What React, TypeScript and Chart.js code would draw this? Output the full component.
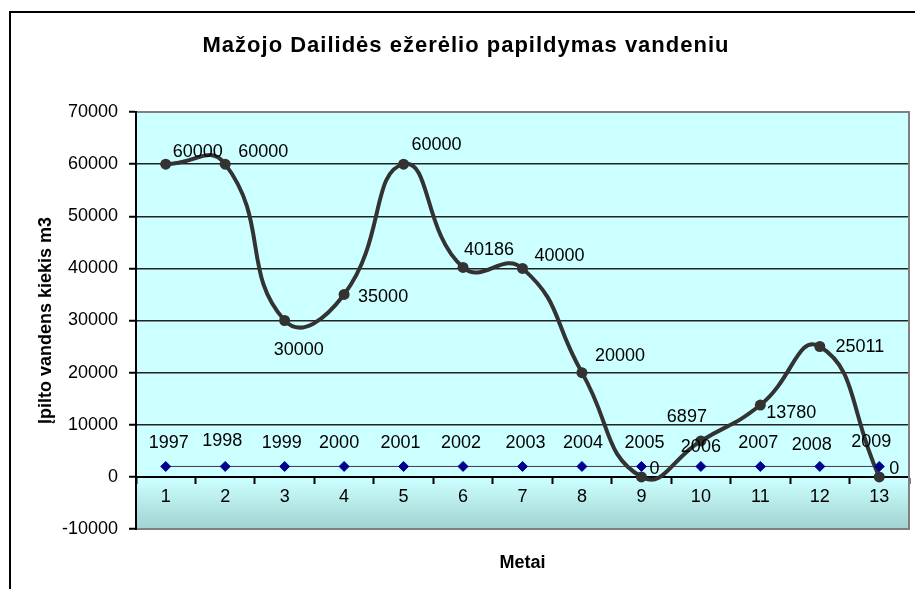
import React, { useEffect, useRef } from 'react';
import { Chart, registerables } from 'chart.js';

Chart.register(...registerables);

const FONT = "'Liberation Sans', Arial, sans-serif";

const TITLE = 'Mažojo Dailidės ežerėlio papildymas vandeniu';
const Y_TITLE = 'Įpilto vandens kiekis m3';
const X_TITLE = 'Metai';

const categories = ['1', '2', '3', '4', '5', '6', '7', '8', '9', '10', '11', '12', '13'];
const waterValues = [60000, 60000, 30000, 35000, 60000, 40186, 40000, 20000, 0, 6897, 13780, 25011, 0];
const years = ['1997', '1998', '1999', '2000', '2001', '2002', '2003', '2004', '2005', '2006', '2007', '2008', '2009'];
const yearMarkerValues = [2000, 2000, 2000, 2000, 2000, 2000, 2000, 2000, 2000, 2000, 2000, 2000, 2000];
const Y_MIN = -10000;
const Y_MAX = 70000;
const Y_STEP = 10000;

// label placement relative to the point (layout only)
const waterLabelOffsets = [
  [32, -12], [38, -12], [14, 30], [39, 3], [33, -19], [26, -17], [37, -12],
  [38, -17], [13, -8], [-14, -24], [31, 8], [40, 1], [15, -8],
];
const yearLabelOffsets = [
  [3, -23], [-3, -25], [-3, -23], [-5, -23], [-3, -23], [-2, -23], [3, -23],
  [1, -23], [3, -23], [0, -19], [-2, -23], [-8, -21], [-8, -24],
];

const decorPlugin = {
  id: 'decor',
  beforeDraw(chart: any) {
    const { ctx, chartArea: a } = chart;
    ctx.save();
    ctx.fillStyle = '#ffffff';
    ctx.fillRect(0, 0, chart.width, chart.height);
    ctx.strokeStyle = '#000000';
    ctx.lineWidth = 2;
    ctx.strokeRect(10, 12, chart.width + 50, chart.height + 50);
    const g = ctx.createLinearGradient(0, a.top, 0, a.bottom);
    g.addColorStop(0, '#CCFFFF');
    g.addColorStop(0.88, '#CCFFFF');
    g.addColorStop(1, '#A2D2D2');
    ctx.fillStyle = g;
    ctx.fillRect(a.left, a.top, a.right - a.left, a.bottom - a.top);
    ctx.font = `bold 22px ${FONT}`;
    try { (ctx as any).letterSpacing = '1px'; } catch (e) {}
    ctx.fillStyle = '#000000';
    ctx.textAlign = 'center';
    ctx.textBaseline = 'alphabetic';
    ctx.fillText(TITLE, 466, 52);
    ctx.restore();
  },
  beforeDatasetsDraw(chart: any) {
    const { ctx, chartArea: a } = chart;
    ctx.save();
    ctx.strokeStyle = '#808080';
    ctx.lineWidth = 2;
    ctx.beginPath();
    ctx.moveTo(a.left, a.top);
    ctx.lineTo(a.right, a.top);
    ctx.lineTo(a.right, a.bottom);
    ctx.lineTo(a.left, a.bottom);
    ctx.stroke();
    ctx.strokeStyle = '#000000';
    ctx.beginPath();
    ctx.moveTo(a.left, a.top - 1);
    ctx.lineTo(a.left, a.bottom + 1);
    ctx.stroke();
    ctx.restore();
  },
  afterDatasetsDraw(chart: any) {
    const { ctx } = chart;
    ctx.save();
    ctx.font = `18px ${FONT}`;
    ctx.fillStyle = '#000000';
    ctx.textAlign = 'center';
    ctx.textBaseline = 'middle';
    chart.getDatasetMeta(0).data.forEach((pt: any, i: number) => {
      const [dx, dy] = waterLabelOffsets[i];
      ctx.fillText(String(waterValues[i]), pt.x + dx, pt.y + dy);
    });
    chart.getDatasetMeta(1).data.forEach((pt: any, i: number) => {
      const [dx, dy] = yearLabelOffsets[i];
      ctx.fillText(years[i], pt.x + dx, pt.y + dy);
    });
    ctx.restore();
  },
};

export default function App() {
  const ref = useRef<HTMLCanvasElement>(null);

  useEffect(() => {
    if (!ref.current) return;
    const chart = new Chart(ref.current, {
      type: 'line',
      data: {
        labels: categories,
        datasets: [
          {
            label: 'Įpilto vandens kiekis',
            data: waterValues,
            borderColor: '#333333',
            backgroundColor: '#333333',
            borderWidth: 4,
            pointRadius: 5.5,
            pointBackgroundColor: '#333333',
            pointBorderWidth: 0,
            tension: 0.5,
            fill: false,
            order: 2,
          },
          {
            label: 'Metai',
            data: yearMarkerValues,
            borderColor: '#3c3c3c',
            borderWidth: 1,
            pointStyle: 'rectRot',
            pointRadius: 5,
            pointBackgroundColor: '#000080',
            pointBorderColor: '#0000c0',
            pointBorderWidth: 1,
            tension: 0,
            fill: false,
            order: 1,
          },
        ],
      },
      options: {
        responsive: false,
        animation: false,
        devicePixelRatio: 1,
        layout: { padding: { top: 112, right: 4, left: 0, bottom: 0 } },
        plugins: {
          legend: { display: false },
          tooltip: { enabled: false },
          title: { display: false },
        },
        scales: {
          x: {
            type: 'category',
            position: 'bottom',
            offset: true,
            grid: { display: false },
            border: { display: false },
            ticks: { display: false },
            title: {
              display: true,
              text: X_TITLE,
              color: '#000000',
              font: { family: FONT, size: 18, weight: 'bold' },
              padding: { top: 23, bottom: 15 },
            },
            afterFit: (s: any) => { s.height = 60; },
          },
          x0: {
            type: 'category',
            axis: 'x',
            labels: categories,
            position: { y: 0 },
            offset: true,
            grid: {
              display: true,
              drawOnChartArea: false,
              drawTicks: true,
              tickLength: 6,
              tickColor: '#000000',
              tickWidth: 2,
              offset: true,
            },
            border: { display: true, color: '#000000', width: 2 },
            ticks: {
              color: '#000000',
              font: { family: FONT, size: 18 },
              padding: 3,
              maxRotation: 0,
              autoSkip: false,
            },
            afterFit: (s: any) => { s.height = 0; },
          },
          y: {
            type: 'linear',
            position: 'left',
            min: Y_MIN,
            max: Y_MAX,
            ticks: {
              stepSize: Y_STEP,
              color: '#000000',
              font: { family: FONT, size: 18 },
              padding: 11,
              callback: (v: any) => String(v),
            },
            grid: {
              color: '#222222',
              lineWidth: 1.5,
              tickLength: 7,
              tickColor: '#000000',
              tickWidth: 2,
            },
            border: { display: true, color: '#000000', width: 2 },
            title: {
              display: true,
              text: Y_TITLE,
              color: '#000000',
              font: { family: FONT, size: 18, weight: 'bold' },
              padding: { top: 35, bottom: 0 },
            },
            afterFit: (s: any) => { s.width = 136; },
          },
        },
      } as any,
      plugins: [decorPlugin],
    });
    return () => chart.destroy();
  }, []);

  return (
    <div style={{ position: 'fixed', left: 0, top: 0, width: 915, height: 589, background: '#ffffff' }}>
      <canvas ref={ref} width={915} height={589} style={{ display: 'block', width: 915, height: 589 }} />
    </div>
  );
}
